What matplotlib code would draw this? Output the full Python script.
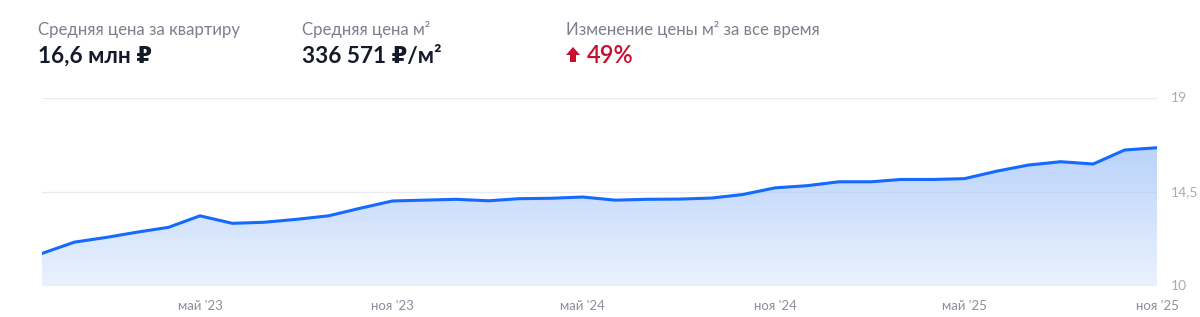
import matplotlib
matplotlib.use("Agg")
import matplotlib.pyplot as plt
import matplotlib.dates as mdates
import numpy as np
import pandas as pd
from matplotlib.colors import LinearSegmentedColormap
from matplotlib.patches import Polygon

# ---------------- data ----------------
months = ["2022-12", "2023-01", "2023-02", "2023-03", "2023-04", "2023-05",
          "2023-06", "2023-07", "2023-08", "2023-09", "2023-10", "2023-11",
          "2023-12", "2024-01", "2024-02", "2024-03", "2024-04", "2024-05",
          "2024-06", "2024-07", "2024-08", "2024-09", "2024-10", "2024-11",
          "2024-12", "2025-01", "2025-02", "2025-03", "2025-04", "2025-05",
          "2025-06", "2025-07", "2025-08", "2025-09", "2025-10", "2025-11"]
price_mln = [11.56, 12.10, 12.33, 12.57, 12.81, 13.36,
             13.00, 13.05, 13.19, 13.36, 13.72, 14.07,
             14.11, 14.15, 14.08, 14.18, 14.20, 14.26,
             14.11, 14.15, 14.16, 14.21, 14.38, 14.70,
             14.80, 14.99, 14.99, 15.10, 15.10, 15.14,
             15.50, 15.79, 15.95, 15.84, 16.51, 16.62]
tick_months = ["2023-05", "2023-11", "2024-05", "2024-11", "2025-05", "2025-11"]
tick_labels = ["май '23", "ноя '23", "май '24", "ноя '24", "май '25", "ноя '25"]
y_ticks = [10, 14.5, 19]
y_tick_labels = ["10", "14,5", "19"]

header_titles = ["Средняя цена за квартиру", "Средняя цена м²", "Изменение цены м² за все время"]
header_values = ["16,6 млн ₽", "336 571 ₽/м²", "49%"]

# ---------------- style ----------------
FONT = ["Lato", "DejaVu Sans"]
plt.rcParams["font.family"] = FONT
GRAY = "#8a8f9c"
DARK = "#141a2a"
RED = "#c8102e"
LINE = "#1469ff"

W, H = 1200, 317
fig = plt.figure(figsize=(W / 100, H / 100), dpi=100)
fig.patch.set_facecolor("white")

x0, x1 = 42, 1157
ytop, ybot = 98, 286
ax = fig.add_axes([x0 / W, 1 - ybot / H, (x1 - x0) / W, (ybot - ytop) / H])

dates = pd.to_datetime(months)
xn = mdates.date2num(dates)
vals = np.array(price_mln)

ax.set_xlim(xn[0], xn[-1])
ax.set_ylim(10, 19)

# gradient fill
cmap = LinearSegmentedColormap.from_list("g", ["#ebf2fe", "#bad3fb"])
grad = np.linspace(0, 1, 256).reshape(-1, 1)
im = ax.imshow(grad, extent=[xn[0], xn[-1], 10, vals.max()], origin="lower",
               aspect="auto", cmap=cmap, zorder=1)
verts = np.vstack([np.column_stack([xn, vals]), [[xn[-1], 10], [xn[0], 10]]])
clip = Polygon(verts, closed=True, transform=ax.transData, facecolor="none", edgecolor="none")
ax.add_patch(clip)
im.set_clip_path(clip)

ax.plot(xn, vals, color=LINE, lw=2.2, zorder=3, solid_joinstyle="round")

# grid (drawn over the fill, faintly)
for yv in y_ticks:
    ax.axhline(yv, color="#b8bcc8", alpha=0.3, lw=1, zorder=2)

for s in ax.spines.values():
    s.set_visible(False)
ax.set_yticks([])
ax.set_xticks(mdates.date2num(pd.to_datetime(tick_months)))
ax.set_xticklabels(tick_labels, color=GRAY, fontsize=9.5)
ax.tick_params(axis="x", length=0, pad=10)

for yv, lab in zip(y_ticks, y_tick_labels):
    ax.text(1.012, yv, lab, transform=ax.get_yaxis_transform(), ha="left",
            va="center", color="#a8acb6", fontsize=10)

# header
cols = [38, 302, 566]
for cx, t in zip(cols, header_titles):
    fig.text(cx / W, 1 - 35 / H, t, ha="left", va="baseline", color="#7b808c", fontsize=12.1)
for i, (cx, v) in enumerate(zip(cols, header_values)):
    if i == 2:
        fig.text((cx + 21) / W, 1 - 63 / H, v, ha="left", va="baseline",
                 color=RED, fontsize=17, fontweight="semibold")
    else:
        fig.text(cx / W, 1 - 63 / H, v, ha="left", va="baseline",
                 color=DARK, fontsize=16.3, fontweight="bold")

# red arrow icon
ax_px = [(566, 55), (573, 47), (580, 55), (576, 55), (576, 62), (570, 62), (570, 55)]
arrow = Polygon([(px / W, 1 - py / H) for px, py in ax_px], closed=True,
                transform=fig.transFigure, facecolor=RED, edgecolor="none")
fig.patches.append(arrow)

fig.savefig("out.png", dpi=100, facecolor="white")
